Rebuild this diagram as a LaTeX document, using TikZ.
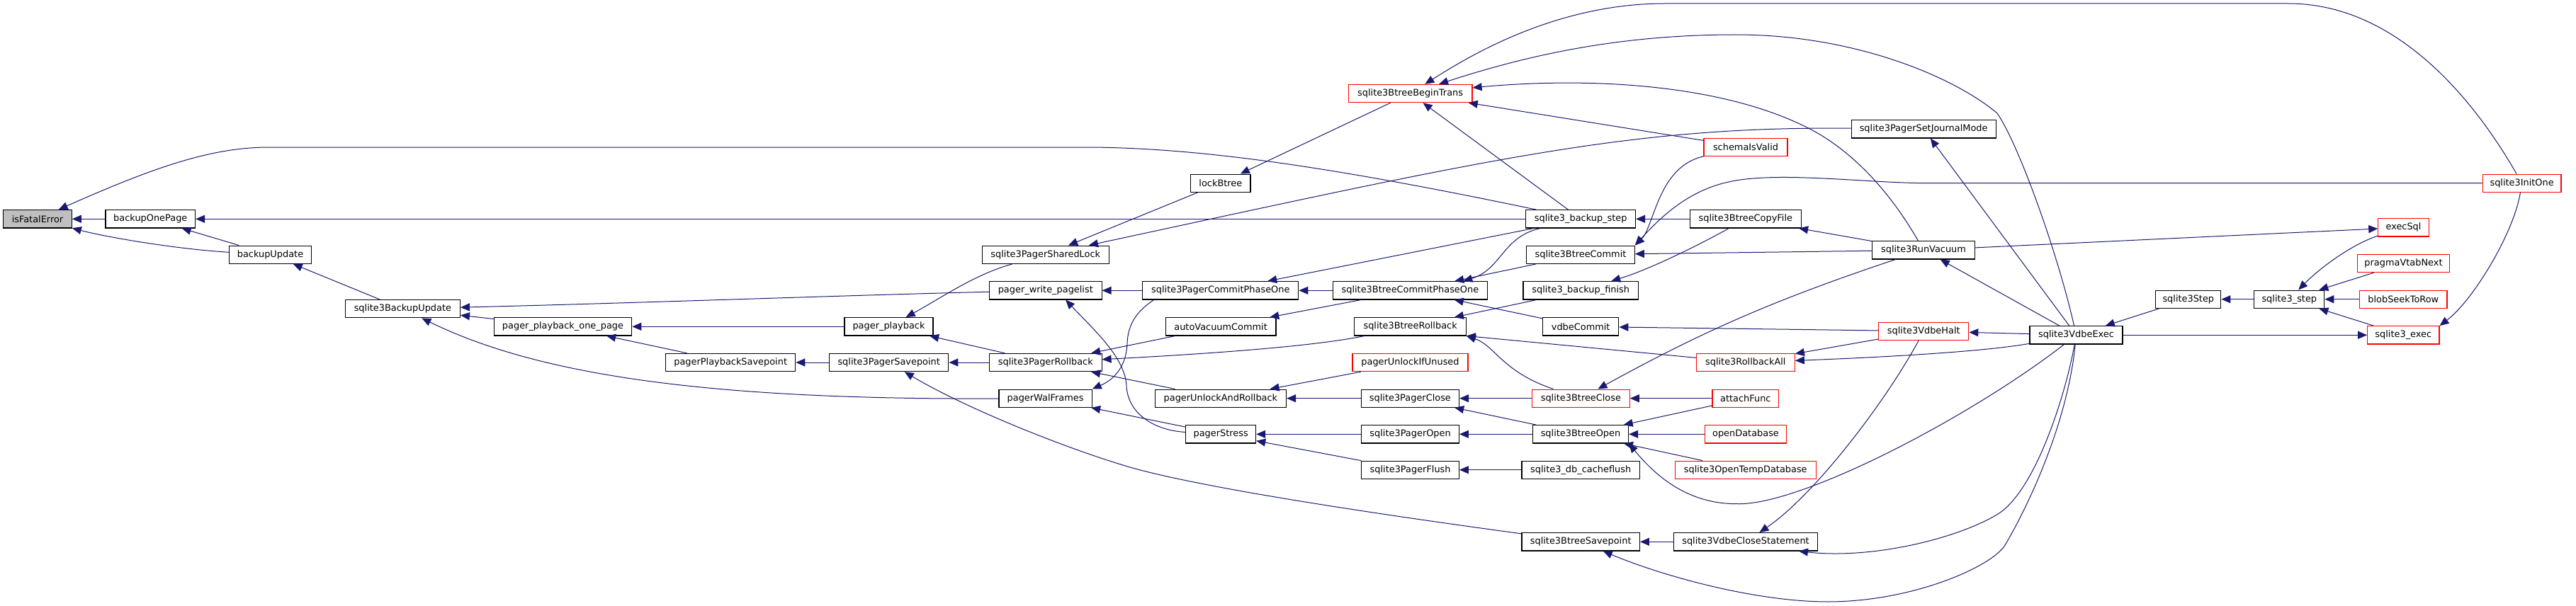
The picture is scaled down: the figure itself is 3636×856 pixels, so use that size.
\documentclass[tikz,border=0pt]{standalone}
\usepackage{fontspec}
\setmainfont{DejaVu Sans}
\usetikzlibrary{arrows.meta}
\definecolor{mblue}{HTML}{191970}
\definecolor{nred}{HTML}{FF0000}
\definecolor{gfill}{HTML}{BFBFBF}
\newcommand\nfont{\fontsize{12.9pt}{15pt}\selectfont}
\tikzset{
  fn/.style={draw=black, fill=white, line width=1.1pt, minimum height=25.3pt, inner sep=0pt, font=\nfont},
  rn/.style={fn, draw=nred},
  edge/.style={draw=mblue, line width=1pt, {Triangle[length=13pt,width=11pt]}-}
}
\begin{document}
\begin{tikzpicture}[x=1pt,y=-1pt]
\useasboundingbox (0,0) rectangle (3636,856);
\fill[white] (0,0) rectangle (3636,856);
% nodes
\node[fn, fill=gfill, minimum width=96.5pt] (isFatal) at (53,309.3) {isFatalError};
\node[fn, minimum width=126.6pt] (bOnePage) at (212.3,309.3) {backupOnePage};
\node[fn, minimum width=116.3pt] (bUpdate) at (381.5,359.7) {backupUpdate};
\node[fn, minimum width=162pt] (s3BackupUpdate) at (568.4,436.2) {sqlite3BackupUpdate};
\node[fn, minimum width=194.5pt] (ppOnePage) at (794.5,461.3) {pager\_playback\_one\_page};
\node[fn, minimum width=183pt] (ppSavepoint) at (1031.2,512) {pagerPlaybackSavepoint};
\node[fn, minimum width=125pt] (pPlayback) at (1254.5,461.3) {pager\_playback};
\node[fn, minimum width=168.2pt] (pSavepoint) at (1254.7,512) {sqlite3PagerSavepoint};
\node[fn, minimum width=179.2pt] (pSharedLock) at (1475.8,359.7) {sqlite3PagerSharedLock};
\node[fn, minimum width=158.5pt] (pWritePagelist) at (1475.8,410.3) {pager\_write\_pagelist};
\node[fn, minimum width=158.5pt] (pRollback) at (1475.8,512) {sqlite3PagerRollback};
\node[fn, minimum width=131.2pt] (pWalFrames) at (1475.6,562.7) {pagerWalFrames};
\node[fn, minimum width=84.2pt] (lockBtree) at (1722.9,258.7) {lockBtree};
\node[fn, minimum width=220pt] (pCommitP1) at (1722.8,410.3) {sqlite3PagerCommitPhaseOne};
\node[fn, minimum width=155.8pt] (autoVac) at (1723.1,461.3) {autoVacuumCommit};
\node[fn, minimum width=185.4pt] (pUnlockRb) at (1722.9,562.7) {pagerUnlockAndRollback};
\node[fn, minimum width=98.9pt] (pStress) at (1723.2,613.3) {pagerStress};
\node[rn, minimum width=174.8pt] (btBegin) at (1990.6,132) {sqlite3BtreeBeginTrans};
\node[fn, minimum width=218.7pt] (btCommitP1) at (1990.4,410.3) {sqlite3BtreeCommitPhaseOne};
\node[fn, minimum width=157.4pt] (btRollback) at (1990.6,461.3) {sqlite3BtreeRollback};
\node[rn, minimum width=163pt] (pUnlockUnused) at (1990.5,512) {pagerUnlockIfUnused};
\node[fn, minimum width=138.4pt] (pClose) at (1990.4,562.7) {sqlite3PagerClose};
\node[fn, minimum width=137.6pt] (pOpen) at (1990.6,613.3) {sqlite3PagerOpen};
\node[fn, minimum width=137.6pt] (pFlush) at (1990.6,663.7) {sqlite3PagerFlush};
\node[fn, minimum width=154.6pt] (bkStep) at (2231.2,309.3) {sqlite3\_backup\_step};
\node[fn, minimum width=152.6pt] (btCommit) at (2231,359.7) {sqlite3BtreeCommit};
\node[fn, minimum width=162.5pt] (bkFinish) at (2231.2,410.3) {sqlite3\_backup\_finish};
\node[fn, minimum width=107.2pt] (vdbeCommit) at (2231.2,461.3) {vdbeCommit};
\node[rn, minimum width=137.6pt] (btClose) at (2231.4,562.7) {sqlite3BtreeClose};
\node[fn, minimum width=135.2pt] (btOpen) at (2231,613.3) {sqlite3BtreeOpen};
\node[fn, minimum width=166.4pt] (dbCacheflush) at (2231.2,663.7) {sqlite3\_db\_cacheflush};
\node[fn, minimum width=166.4pt] (btSavepoint) at (2231.2,765.3) {sqlite3BtreeSavepoint};
\node[rn, minimum width=118pt] (schemaValid) at (2464,208) {schemaIsValid};
\node[fn, minimum width=157.1pt] (btCopyFile) at (2463.8,309.3) {sqlite3BtreeCopyFile};
\node[rn, minimum width=139pt] (rollbackAll) at (2463.8,512) {sqlite3RollbackAll};
\node[rn, minimum width=93.7pt] (attachFunc) at (2463.8,562.7) {attachFunc};
\node[rn, minimum width=115.8pt] (openDb) at (2464,613.3) {openDatabase};
\node[rn, minimum width=199pt] (openTempDb) at (2463.8,663.7) {sqlite3OpenTempDatabase};
\node[fn, minimum width=202.6pt] (vdbeCloseStmt) at (2464,765.3) {sqlite3VdbeCloseStatement};
\node[fn, minimum width=204pt] (setJournal) at (2715.1,182.3) {sqlite3PagerSetJournalMode};
\node[fn, minimum width=144.3pt] (runVacuum) at (2715,353.3) {sqlite3RunVacuum};
\node[rn, minimum width=126.9pt] (vdbeHalt) at (2715.3,467.8) {sqlite3VdbeHalt};
\node[fn, minimum width=131pt] (vdbeExec) at (2930.5,473.3) {sqlite3VdbeExec};
\node[fn, minimum width=92.1pt] (s3Step) at (3088.8,422.7) {sqlite3Step};
\node[fn, minimum width=98.8pt] (s3step) at (3231.3,422.7) {sqlite3\_step};
\node[rn, minimum width=110.7pt] (initOne) at (3559.6,258.7) {sqlite3InitOne};
\node[rn, minimum width=71.5pt] (execSql) at (3392.5,321.3) {execSql};
\node[rn, minimum width=130.1pt] (pragmaNext) at (3392.5,372) {pragmaVtabNext};
\node[rn, minimum width=123.4pt] (blobSeek) at (3392.3,422.7) {blobSeekToRow};
\node[rn, minimum width=101.3pt] (s3exec) at (3392.3,473.3) {sqlite3\_exec};
% edges (arrow at callee, path starts at callee)
\draw[edge] (isFatal) -- (bOnePage);
\draw[edge] (isFatal) .. controls (150,335) and (250,352) .. (bUpdate);
\draw[edge] (isFatal) .. controls (220,235) and (300,208) .. (380,208) -- (1530,208) .. controls (1700,208) and (1900,240) .. (bkStep);
\draw[edge] (bOnePage) -- (bkStep);
\draw[edge] (bOnePage) -- (bUpdate);
\draw[edge] (bUpdate) -- (s3BackupUpdate);
\draw[edge] (s3BackupUpdate) .. controls (900,428) and (1200,417) .. (pWritePagelist);
\draw[edge] (s3BackupUpdate) -- (ppOnePage);
\draw[edge] (s3BackupUpdate) .. controls (760,530) and (1000,565) .. (pWalFrames);
\draw[edge] (ppOnePage) -- (pPlayback);
\draw[edge] (ppOnePage) -- (ppSavepoint);
\draw[edge] (ppSavepoint) -- (pSavepoint);
\draw[edge] (pPlayback) -- (pRollback);
\draw[edge] (pSavepoint) -- (pRollback);
\draw[edge] (pPlayback) .. controls (1330,420) and (1375,388) .. (pSharedLock);
\draw[edge] (pSharedLock) -- (lockBtree);
\draw[edge] (pSharedLock) .. controls (2100,225) and (2300,178) .. (setJournal);
\draw[edge] (lockBtree) -- (btBegin);
\draw[edge] (pCommitP1) -- (bkStep);
\draw[edge] (pWritePagelist) -- (pCommitP1);
\draw[edge] (pWritePagelist.-25) .. controls (1545,467) and (1588,505) .. (1590,545) .. controls (1592,585) and (1630,608) .. (pStress);
\draw[edge] (pWalFrames.north east) .. controls (1575,535) and (1590,515) .. (1591,485) .. controls (1592,455) and (1608,437) .. (pCommitP1.188);
\draw[edge] (pRollback) -- (autoVac);
\draw[edge] (autoVac) -- (btCommitP1);
\draw[edge] (pRollback) -- (pUnlockRb);
\draw[edge] (pRollback) .. controls (1700,500) and (1850,490) .. (btRollback);
\draw[edge] (pWalFrames) -- (pStress);
\draw[edge] (pSavepoint) .. controls (1360,575) and (1500,632) .. (1595,660) .. controls (1700,690) and (1950,727) .. (btSavepoint);
\draw[edge] (pUnlockRb) -- (pUnlockUnused);
\draw[edge] (pUnlockRb) -- (pClose);
\draw[edge] (pStress) -- (pOpen);
\draw[edge] (pStress) -- (pFlush);
\draw[edge] (btBegin) -- (bkStep);
\draw[edge] (btBegin) -- (schemaValid);
\draw[edge] (btBegin) .. controls (2080,75) and (2200,5) .. (2350,5) -- (3230,5) .. controls (3370,5) and (3480,120) .. (initOne);
\draw[edge] (btBegin) .. controls (2150,80) and (2280,49) .. (2450,49) .. controls (2620,49) and (2760,110) .. (2819,160) .. controls (2850,205) and (2905,360) .. (vdbeExec);
\draw[edge] (btBegin) .. controls (2250,108) and (2440,120) .. (2560,185) .. controls (2620,218) and (2670,275) .. (runVacuum);
\draw[edge] (bkStep) -- (btCopyFile);
\draw[edge] (btCommitP1.10) .. controls (2120,380) and (2120,335) .. (bkStep);
\draw[edge] (btCommitP1) -- (btCommit);
\draw[edge] (pCommitP1) -- (btCommitP1);
\draw[edge] (btCommit.north east) .. controls (2335,320) and (2340,235) .. (schemaValid);
\draw[edge] (btCommit.north east) .. controls (2350,300) and (2390,265) .. (2450,255) .. controls (2520,243) and (2640,258.7) .. (2720,258.7) -- (initOne);
\draw[edge] (btCommit) -- (runVacuum);
\draw[edge] (btRollback) -- (bkFinish);
\draw[edge] (btCommitP1) -- (vdbeCommit);
\draw[edge] (bkFinish) .. controls (2330,380) and (2400,345) .. (btCopyFile);
\draw[edge] (btRollback.south east) -- (rollbackAll);
\draw[edge] (btRollback.south east) .. controls (2110,488) and (2120,525) .. (btClose);
\draw[edge] (vdbeCommit) -- (vdbeHalt);
\draw[edge] (btClose) .. controls (2400,470) and (2500,425) .. (runVacuum);
\draw[edge] (pClose) -- (btClose);
\draw[edge] (pClose) -- (btOpen);
\draw[edge] (btClose) -- (attachFunc);
\draw[edge] (btOpen) -- (attachFunc);
\draw[edge] (pOpen) -- (btOpen);
\draw[edge] (btOpen) -- (openDb);
\draw[edge] (btOpen) -- (openTempDb);
\draw[edge] (btOpen.south east) .. controls (2335,670) and (2380,711.7) .. (2451,711.7) .. controls (2540,715) and (2780,590) .. (vdbeExec);
\draw[edge] (pFlush) -- (dbCacheflush);
\draw[edge] (btSavepoint) -- (vdbeCloseStmt);
\draw[edge] (btSavepoint) .. controls (2350,815) and (2480,850) .. (2580,850) .. controls (2700,850) and (2812,800) .. (2830,770) .. controls (2860,720) and (2918,600) .. (vdbeExec);
\draw[edge] (vdbeCloseStmt) .. controls (2560,700) and (2660,570) .. (vdbeHalt);
\draw[edge] (vdbeCloseStmt.-10.5) .. controls (2640,790) and (2760,762) .. (2819,726.7) .. controls (2872,695) and (2915,560) .. (vdbeExec);
\draw[edge] (vdbeHalt) -- (vdbeExec);
\draw[edge] (rollbackAll) -- (vdbeHalt);
\draw[edge] (rollbackAll) .. controls (2650,505) and (2800,497) .. (vdbeExec);
\draw[edge] (runVacuum) -- (vdbeExec);
\draw[edge] (setJournal) -- (vdbeExec);
\draw[edge] (btCopyFile) -- (runVacuum);
\draw[edge] (execSql) -- (runVacuum);
\draw[edge] (vdbeExec) -- (s3Step);
\draw[edge] (s3Step) -- (s3step);
\draw[edge] (s3step) .. controls (3275,378) and (3320,345) .. (execSql);
\draw[edge] (s3step) -- (pragmaNext);
\draw[edge] (s3step) -- (blobSeek);
\draw[edge] (s3step) -- (s3exec);
\draw[edge] (s3exec.north east) .. controls (3490,425) and (3548,330) .. (initOne);
\draw[edge] (s3exec) -- (vdbeExec);
\end{tikzpicture}
\end{document}
